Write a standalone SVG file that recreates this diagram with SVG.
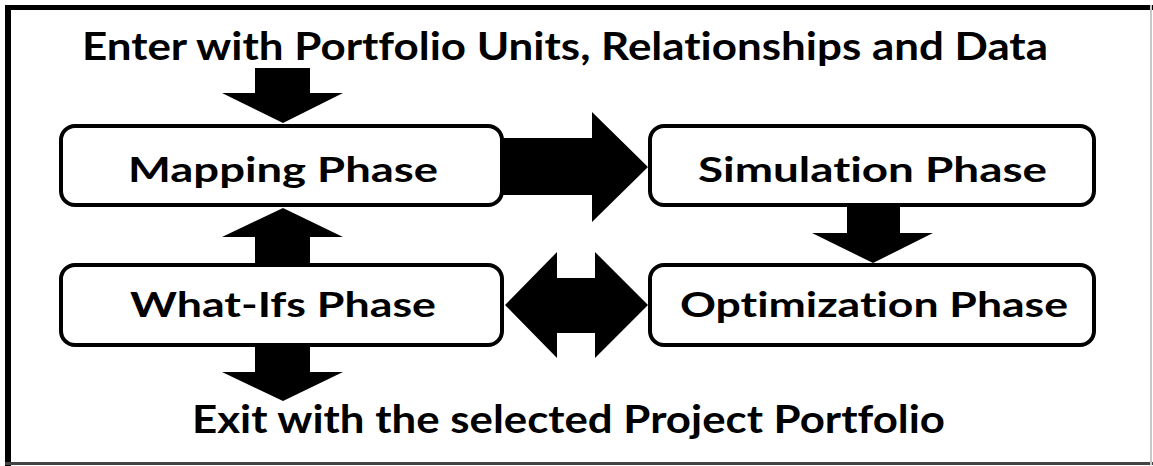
<svg xmlns="http://www.w3.org/2000/svg" width="1153" height="466" viewBox="0 0 1153 466">
  <style>
    .box { fill: #fff; stroke: #000; stroke-width: 4; }
    .lbl { font-family: Lato, "Open Sans", "Liberation Sans", sans-serif; font-weight: bold; fill: #000;
           font-variant-ligatures: none; font-feature-settings: "liga" 0, "clig" 0; }
    .node { font-size: 35px; }
    .head { font-size: 39px; }
    .arrow { fill: #000; stroke: none; }
  </style>

  <!-- page frame -->
  <rect x="0" y="0" width="1153" height="466" fill="#fff"/>
  <g id="frame">
    <rect x="5" y="5" width="1148" height="5" fill="#000"/>
    <rect x="5" y="5" width="6" height="461" fill="#000"/>
    <rect x="5" y="462" width="1148" height="3" fill="#444"/>
    <rect x="1150" y="5" width="2" height="460" fill="#c8c8c8"/>
  </g>

  <!-- entry / exit captions -->
  <text class="lbl head" x="82" y="60" textLength="966" lengthAdjust="spacingAndGlyphs">Enter with Portfolio Units, Relationships and Data</text>
  <text class="lbl head" x="192" y="433" textLength="753" lengthAdjust="spacingAndGlyphs">Exit with the selected Project Portfolio</text>

  <!-- block arrows -->
  <g id="connectors">
    <!-- entry: down into Mapping -->
    <polygon class="arrow" points="255,68 310,68 310,93 343,93 283,123 222,93 255,93"/>
    <!-- What-Ifs up to Mapping -->
    <polygon class="arrow" points="283,208 343,237 310,237 310,265 255,265 255,237 222,237"/>
    <!-- exit: down from What-Ifs -->
    <polygon class="arrow" points="255,345 310,345 310,372 343,372 283,401 222,372 255,372"/>
    <!-- Mapping to Simulation -->
    <polygon class="arrow" points="501,138 592,138 592,112 648,167 592,222 592,195 501,195"/>
    <!-- Simulation down to Optimization -->
    <polygon class="arrow" points="847,203 900,203 900,233 933,233 873,263 812,233 847,233"/>
    <!-- What-Ifs and Optimization, both ways -->
    <polygon class="arrow" points="505,305 557,252 557,278 595,278 595,252 648,305 595,358 595,333 557,333 557,358"/>
  </g>

  <!-- phase nodes -->
  <g id="mapping">
    <rect class="box" x="61" y="126" width="441" height="79" rx="14"/>
    <text class="lbl node" x="128" y="182" textLength="310" lengthAdjust="spacingAndGlyphs">Mapping  Phase</text>
  </g>
  <g id="simulation">
    <rect class="box" x="650" y="126" width="444" height="79" rx="14"/>
    <text class="lbl node" x="698" y="182" textLength="349" lengthAdjust="spacingAndGlyphs">Simulation  Phase</text>
  </g>
  <g id="whatifs">
    <rect class="box" x="61" y="265" width="441" height="80" rx="14"/>
    <text class="lbl node" x="130" y="317" textLength="306" lengthAdjust="spacingAndGlyphs">What-Ifs  Phase</text>
  </g>
  <g id="optimization">
    <rect class="box" x="650" y="265" width="444" height="80" rx="14"/>
    <text class="lbl node" x="680" y="317" textLength="388" lengthAdjust="spacingAndGlyphs">Optimization  Phase</text>
  </g>
</svg>
